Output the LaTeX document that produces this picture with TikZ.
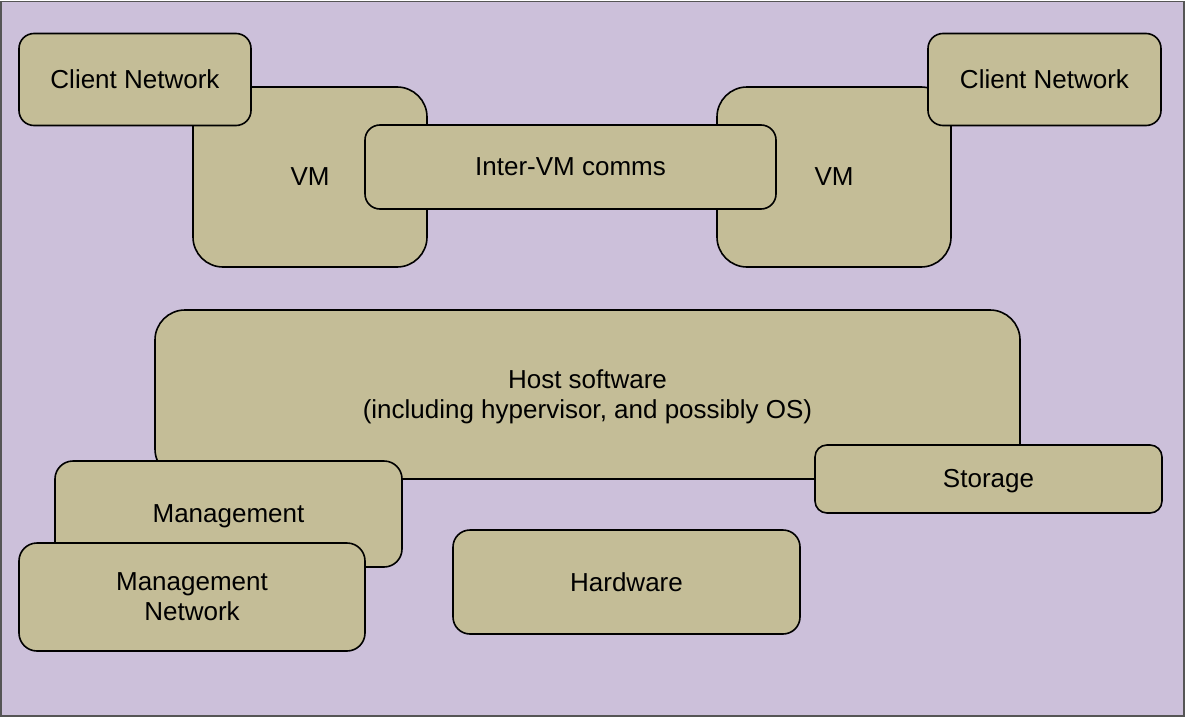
\documentclass[tikz,border=0pt]{standalone}
\usepackage{fontspec}
\setmainfont{Liberation Sans}
\definecolor{bgcol}{HTML}{CCC0DA}
\definecolor{boxcol}{HTML}{C4BD97}
\definecolor{framecol}{HTML}{555555}
\begin{document}
\begin{tikzpicture}[x=1pt,y=-1pt,
  box/.style={draw=black, line width=1.6pt, fill=boxcol, rounded corners=#1,
    inner sep=0pt, align=center, text=black, font=\fontsize{26}{30}\selectfont},
  box/.default=15pt,
  lbl/.style={inner sep=0pt, align=center, text=black, font=\fontsize{26}{30}\selectfont}]
\useasboundingbox (0,0) rectangle (1185,717);
\draw[fill=bgcol, draw=framecol, line width=1.6pt] (1,1.5) rectangle (1184,716);
% top row
\node[box=30pt, minimum width=234pt, minimum height=180pt] (vml) at (310,177) {VM};
\node[box=15pt, minimum width=232pt, minimum height=92pt] (cnl) at (135,79.5) {Client Network};
\node[box=30pt, minimum width=234pt, minimum height=180pt] (vmr) at (834,177) {VM};
\node[box=15pt, minimum width=233pt, minimum height=92pt] (cnr) at (1044.5,79.5) {Client Network};
\node[box=15pt, minimum width=411pt, minimum height=84pt] (inter) at (570.5,167) {Inter-VM comms};
% host
\node[box=30pt, minimum width=865pt, minimum height=169pt] (host) at (587.5,394.5) {};
\node[lbl] (hosttxt) at (587.5,397) {Host software\\(including hypervisor, and possibly OS)};
\node[box=12pt, minimum width=347pt, minimum height=68pt] (stor) at (988.5,479) {};
\node[lbl] (stortxt) at (988.5,481.5) {Storage};
\node[box=18pt, minimum width=347pt, minimum height=106pt] (mgmt) at (228.5,514) {};
\node[lbl] (mgmttxt) at (228.5,516.5) {Management};
\node[box=18pt, minimum width=346pt, minimum height=108pt] (mgmtnet) at (192,597) {Management\\Network};
\node[box=17pt, minimum width=347pt, minimum height=104pt] (hw) at (626.5,582) {Hardware};
\end{tikzpicture}
\end{document}
